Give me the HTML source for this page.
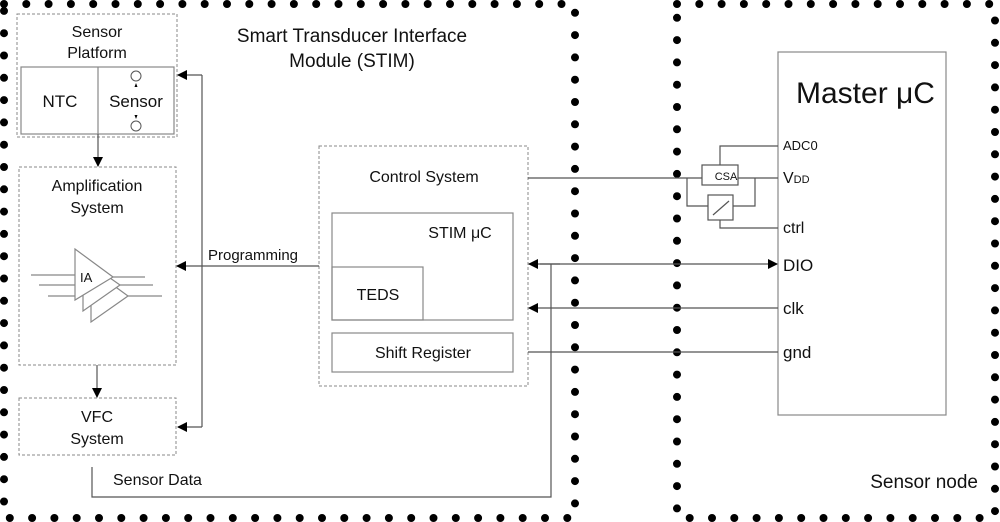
<!DOCTYPE html>
<html><head><meta charset="utf-8"><style>
html,body{margin:0;padding:0;background:#fff}
svg{display:block}
text{font-family:"Liberation Sans",Arial,sans-serif;fill:#111}
</style></head><body>
<svg width="1000" height="522" viewBox="0 0 1000 522" xmlns="http://www.w3.org/2000/svg">
<defs>
<marker id="a" markerWidth="10" markerHeight="10" refX="9" refY="5" orient="auto" markerUnits="userSpaceOnUse">
<path d="M0,0 L10,5 L0,10 z" fill="#000"/></marker>
</defs>
<g stroke="#000" stroke-width="8" stroke-linecap="round" stroke-dasharray="0 22.3" fill="none">
<rect x="4" y="4" width="571" height="514"/>
<rect x="677" y="4" width="318" height="514"/>
</g>
<text x="352" y="42" font-size="19" text-anchor="middle">Smart Transducer Interface</text>
<text x="352" y="67" font-size="19" text-anchor="middle">Module (STIM)</text>
<text x="978" y="488" font-size="19" text-anchor="end">Sensor node</text>

<g fill="none" stroke="#888" stroke-width="1" stroke-dasharray="3 2">
<rect x="17" y="14" width="160" height="123"/>
<rect x="19" y="167" width="157" height="198"/>
<rect x="19" y="398" width="157" height="57"/>
<rect x="319" y="146" width="209" height="240"/>
</g>
<g fill="none" stroke="#888" stroke-width="1.2">
<rect x="21" y="67" width="153" height="67"/>
<line x1="98" y1="67" x2="98" y2="134"/>
<rect x="332" y="213" width="181" height="107"/>
<rect x="332" y="267" width="91" height="53"/>
<rect x="332" y="333" width="181" height="39"/>
<rect x="778" y="52" width="168" height="363"/>
</g>
<text x="97" y="37" font-size="16" text-anchor="middle">Sensor</text>
<text x="97" y="58" font-size="16" text-anchor="middle">Platform</text>
<text x="60" y="107" font-size="17" text-anchor="middle">NTC</text>
<text x="136" y="107" font-size="17" text-anchor="middle">Sensor</text>
<g fill="none" stroke="#555" stroke-width="1">
<circle cx="136" cy="76" r="5"/><circle cx="136" cy="126" r="5"/>
</g>
<path d="M134.5,87 l1.5,-4 l1.5,4z M134.5,115 l1.5,4 l1.5,-4z" fill="#000"/>
<text x="97" y="191" font-size="16" text-anchor="middle">Amplification</text>
<text x="97" y="213" font-size="16" text-anchor="middle">System</text>
<text x="97" y="422" font-size="16" text-anchor="middle">VFC</text>
<text x="97" y="444" font-size="16" text-anchor="middle">System</text>
<text x="424" y="182" font-size="16" text-anchor="middle">Control System</text>
<text x="460" y="238" font-size="16" text-anchor="middle">STIM μC</text>
<text x="378" y="300" font-size="16" text-anchor="middle">TEDS</text>
<text x="423" y="358" font-size="16" text-anchor="middle">Shift Register</text>
<text x="208" y="260" font-size="15">Programming</text>
<text x="113" y="485" font-size="16">Sensor Data</text>

<g stroke="#888" stroke-width="1.2" fill="#fff">
<line x1="31" y1="275" x2="75" y2="275"/><line x1="39" y1="285" x2="75" y2="285"/><line x1="48" y1="296" x2="75" y2="296"/>
<line x1="113" y1="277" x2="145" y2="277"/><line x1="120" y1="285" x2="153" y2="285"/><line x1="128" y1="296" x2="162" y2="296"/>
<path d="M91,269 L128,296 L91,322 z"/>
<path d="M83,259 L120,285 L83,311 z"/>
<path d="M75,249 L113,277 L75,300 z"/>
</g>
<text x="80" y="282" font-size="13">IA</text>

<g stroke="#555" stroke-width="1.2" fill="none">
<line x1="98" y1="134" x2="98" y2="166" marker-end="url(#a)"/>
<line x1="97" y1="365" x2="97" y2="397" marker-end="url(#a)"/>
<polyline points="202,75 202,427"/>
<line x1="202" y1="75" x2="178" y2="75" marker-end="url(#a)"/>
<line x1="202" y1="427" x2="178" y2="427" marker-end="url(#a)"/>
<line x1="319" y1="266" x2="177" y2="266" marker-end="url(#a)"/>
<line x1="528" y1="178" x2="702" y2="178"/>
<line x1="738" y1="178" x2="778" y2="178"/>
<line x1="540" y1="264" x2="777" y2="264" marker-end="url(#a)"/>
<line x1="560" y1="264" x2="529" y2="264" marker-end="url(#a)"/>
<line x1="778" y1="308" x2="529" y2="308" marker-end="url(#a)"/>
<line x1="528" y1="352" x2="778" y2="352"/>
<polyline points="551,264 551,497 92,497 92,467"/>
<rect x="702" y="165" width="36" height="20"/>
<polyline points="720,165 720,146 778,146"/>
<polyline points="687,178 687,206 708,206"/>
<polyline points="733,206 755,206 755,178"/>
<rect x="708" y="195" width="25" height="25"/>
<line x1="713" y1="215" x2="729" y2="201"/>
<polyline points="720,220 720,228 778,228"/>
</g>
<text x="726" y="180" font-size="11" text-anchor="middle">CSA</text>
<text x="796" y="103" font-size="30">Master μC</text>
<text x="783" y="150" font-size="13">ADC0</text>
<text x="783" y="183" font-size="16">V<tspan font-size="11">DD</tspan></text>
<text x="783" y="233" font-size="16">ctrl</text>
<text x="783" y="271" font-size="17">DIO</text>
<text x="783" y="314" font-size="17">clk</text>
<text x="783" y="358" font-size="17">gnd</text>
</svg>
</body></html>
